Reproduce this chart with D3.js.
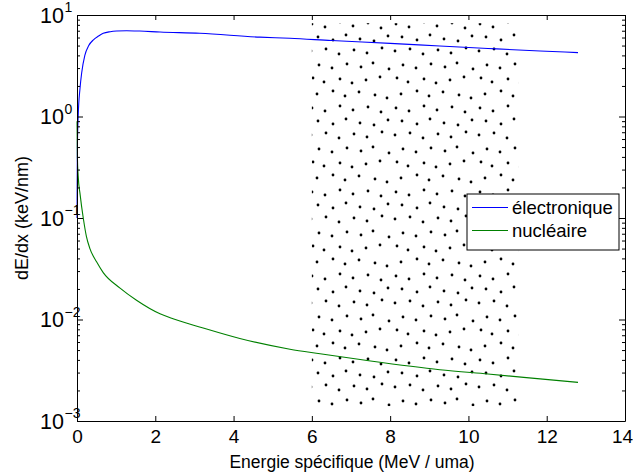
<!DOCTYPE html>
<html>
<head>
<meta charset="utf-8">
<script src="https://cdn.jsdelivr.net/npm/d3@7"></script>
<style>
  body { margin: 0; background: #fff; }
  svg { display: block; font-family: "Liberation Sans", Arial, Helvetica, sans-serif; }
</style>
</head>
<body>
<svg id="chart" width="633" height="475"></svg>
<script>
// ---- data ----
const elecE   = [0.001, 0.01, 0.03, 0.077, 0.12, 0.2, 0.3, 0.42, 0.55, 0.67, 0.85, 1.01, 1.27, 1.6, 2.12, 3.14, 4.67, 5.44, 6.5, 8, 9.27, 10.5, 11.83, 12.8];
const elecVal = [0.1, 0.5, 1.0, 1.9, 2.7, 4.0, 5.0, 5.7, 6.2, 6.6, 6.85, 6.95, 7.0, 6.95, 6.8, 6.6, 6.05, 5.9, 5.6, 5.25, 4.95, 4.68, 4.42, 4.26];
const nuclE   = [0.001, 0.01, 0.03, 0.08, 0.16, 0.24, 0.33, 0.5, 0.67, 1.1, 1.52, 2.12, 2.38, 3.2, 4.16, 5.44, 6.21, 7.5, 9.27, 10.5, 11.83, 12.8];
const nuclVal = [0.9, 0.4, 0.26, 0.17, 0.1, 0.066, 0.05, 0.037, 0.029, 0.0204, 0.0155, 0.0114, 0.0104, 0.0083, 0.0065, 0.0051, 0.0046, 0.0039, 0.0032, 0.0029, 0.0026, 0.0024];
const seriesNames = ["électronique", "nucléaire"];
const seriesColors = ["#0000ff", "#008000"];
// dotted (hatched) band
const bandX = [6.0, 11.27];
const bandY = [0.0014, 8.3];
const xTicks = [0, 2, 4, 6, 8, 10, 12, 14];
const yTicks = [1e-3, 1e-2, 1e-1, 1, 10];
const yExps  = ["−3", "−2", "−1", "0", "1"];
const xTitle = "Energie spécifique (MeV / uma)";
const yTitle = "dE/dx (keV/nm)";

// ---- layout ----
const svg = d3.select("#chart");
const L = 77, R = 625, T = 15, B = 421;
const x = d3.scaleLinear().domain([0, 14]).range([L, R]);
const y = d3.scaleLog().domain([1e-3, 10]).range([B, T]);

// speckle pattern (style) for the band
const defs = svg.append("defs");
const pat = defs.append("pattern").attr("id", "dots").attr("patternUnits", "userSpaceOnUse")
  .attr("width", 84).attr("height", 84).attr("x", 309).attr("y", 20);
const dotPos = [
  [3,4],[16,7],[31,2],[44,6],[59,3],[72,8],
  [9,17],[24,20],[37,15],[51,19],[65,21],[79,16],
  [2,31],[17,29],[30,34],[45,30],[58,33],[73,28],
  [10,45],[23,48],[38,44],[52,47],[64,43],[80,49],
  [4,58],[15,62],[31,59],[43,63],[57,60],[71,57],
  [8,74],[24,71],[36,76],[50,72],[66,75],[78,78]];
dotPos.forEach(p => pat.append("circle").attr("cx", p[0]).attr("cy", p[1]).attr("r", 1.4).attr("fill", "#000"));
svg.append("rect")
  .attr("x", x(bandX[0])).attr("y", y(bandY[1]))
  .attr("width", x(bandX[1]) - x(bandX[0])).attr("height", y(bandY[0]) - y(bandY[1]))
  .attr("fill", "url(#dots)");

// lines
const line = d3.line().x(d => x(d[0])).y(d => y(d[1])).curve(d3.curveMonotoneX);
const series = [d3.zip(elecE, elecVal), d3.zip(nuclE, nuclVal)];
series.forEach((s, i) => {
  svg.append("path").datum(s).attr("d", line)
    .attr("fill", "none").attr("stroke", seriesColors[i]).attr("stroke-width", 1.1);
});

// axes (ticks inward, mirrored)
const minor = [];
for (let e = -3; e < 1; e++) for (let k = 2; k <= 9; k++) minor.push(k * Math.pow(10, e));

function styleAxis(g) {
  g.select(".domain").attr("stroke", "#000").attr("stroke-width", 1);
  g.selectAll(".tick line").attr("stroke", "#000");
}
svg.append("g").attr("transform", `translate(0,${B})`)
  .call(d3.axisBottom(x).tickValues(xTicks).tickSizeInner(-5).tickSizeOuter(0).tickPadding(9).tickFormat(d3.format("d")))
  .call(styleAxis)
  .call(g => g.selectAll("text").attr("font-size", 19).attr("fill", "#000").attr("font-family", "Liberation Sans, Arial, sans-serif"))
  .call(g => g.selectAll(".tick").filter(d => d === 14).select("text").attr("dx", -3));
svg.append("g").attr("transform", `translate(0,${T})`)
  .call(d3.axisTop(x).tickValues(xTicks).tickSizeInner(-5).tickSizeOuter(0).tickFormat(""))
  .call(styleAxis);

svg.append("g").attr("transform", `translate(${L},0)`)
  .call(d3.axisLeft(y).tickValues(yTicks).tickSizeInner(-6).tickSizeOuter(0).tickFormat(""))
  .call(styleAxis);
svg.append("g").attr("transform", `translate(${L},0)`)
  .call(d3.axisLeft(y).tickValues(minor).tickSizeInner(-3).tickSizeOuter(0).tickFormat(""))
  .call(styleAxis).select(".domain").remove();
svg.append("g").attr("transform", `translate(${R},0)`)
  .call(d3.axisRight(y).tickValues(yTicks).tickSizeInner(-6).tickSizeOuter(0).tickFormat(""))
  .call(styleAxis);
svg.append("g").attr("transform", `translate(${R},0)`)
  .call(d3.axisRight(y).tickValues(minor).tickSizeInner(-3).tickSizeOuter(0).tickFormat(""))
  .call(styleAxis).select(".domain").remove();

// y tick labels with superscripts
yTicks.forEach((v, i) => {
  svg.append("text").attr("x", 64).attr("y", y(v) + 7.5)
    .attr("text-anchor", "end").attr("font-size", 21.5).attr("fill", "#000").text("10");
  svg.append("text").attr("x", 64.5).attr("y", y(v) - 3)
    .attr("font-size", 14).attr("fill", "#000").text(yExps[i]);
});

// titles
svg.append("text").attr("x", (L + R) / 2 + 1).attr("y", 468).attr("text-anchor", "middle")
  .attr("font-size", 17.5).attr("fill", "#000").text(xTitle);
svg.append("text").attr("transform", `translate(28,${(T + B) / 2}) rotate(-90)`)
  .attr("text-anchor", "middle").attr("font-size", 18).attr("fill", "#000").text(yTitle);

// legend
const lg = svg.append("g");
lg.append("rect").attr("x", 467).attr("y", 194).attr("width", 152).attr("height", 56)
  .attr("fill", "#fff").attr("stroke", "#000").attr("stroke-width", 1);
seriesNames.forEach((n, i) => {
  const cy = 207.5 + i * 23;
  lg.append("line").attr("x1", 472).attr("x2", 508).attr("y1", cy).attr("y2", cy)
    .attr("stroke", seriesColors[i]).attr("stroke-width", 1.1);
  lg.append("text").attr("x", 512).attr("y", cy + 6.5).attr("font-size", 18.5).attr("fill", "#000").text(n);
});
</script>
</body>
</html>
